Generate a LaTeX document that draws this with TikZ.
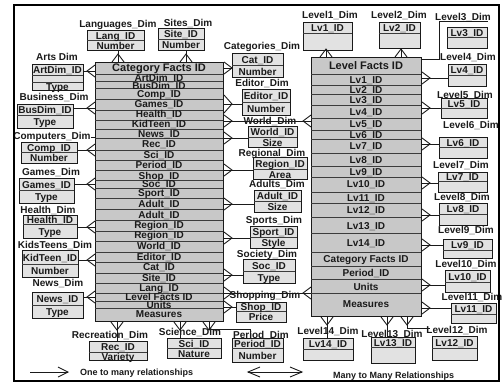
\documentclass[tikz,border=0pt]{standalone}
\usepackage{fontspec}
\setmainfont{Liberation Sans}
\definecolor{factfill}{HTML}{C8C8C8}
\definecolor{dimfill}{HTML}{E2E2E2}
\definecolor{ink}{HTML}{1A1A1A}
\tikzset{
 tx/.style={inner sep=0pt, text height=7.2pt, text depth=0pt, font=\fontsize{10}{10}\selectfont\bfseries, text=ink},
 hx/.style={tx, font=\fontsize{11}{11}\selectfont\bfseries, text height=7.9pt},
 lgx/.style={inner sep=0pt, text height=6.5pt, text depth=0pt, font=\fontsize{9}{9}\selectfont\bfseries, text=ink, anchor=west},
 facttab/.style={draw=ink, line width=1pt, fill=factfill, inner sep=0pt, anchor=north west},
 dimrect/.style={draw=ink, line width=1.1pt, fill=dimfill, inner sep=0pt, anchor=north west},
 rowline/.style={draw=ink!85, line width=0.9pt},
 conn/.style={draw=ink, line width=0.9pt},
 pics/crow/.style={code={\draw[conn] (0pt,-6pt) -- (8pt,0pt) -- (0pt,6pt);}},
 pics/bigcrow/.style={code={\draw[conn] (0pt,-9pt) -- (8pt,0pt) -- (0pt,9pt);}},
}
\newcommand\DimBox[8]{%
 \node[dimrect, minimum width={(#3-#2)*1pt}, minimum height={(#6-#4)*1pt}] (#1) at (#2,#4) {};
 \draw[rowline] (#2,#5) -- (#3,#5);
 \node[tx] (#1-a) at ({(#2+#3)/2},{(#4+#5)/2+0.5}) {#7};
 \node[tx] (#1-b) at ({(#2+#3)/2},{(#5+#6)/2+0.5}) {#8};
}
\newcommand\DimLabel[4]{\node[tx] (#1) at (#2,#3) {#4};}
\begin{document}
\begin{tikzpicture}[x=1pt,y=-1pt]
\useasboundingbox (0,0) rectangle (502,383);
\fill[white] (0,0) rectangle (502,383);

% ---------- Category Facts table ----------
\node[facttab, minimum width=128pt, minimum height=259pt] (catf) at (95,62) {};
\foreach \y in {74,81,88,99,110,120,129,138,150,160,170,180,188,198,209,220,231,241,252,262,273,283,293,301,308}
  \draw[rowline] (95,\y) -- (223,\y);
\node[hx] (catf-h) at (159,68) {Category Facts ID};
\foreach \y/\t in {78/ArtDim\_ID,86/BusDim\_ID,94/Comp\_ID,104/Games\_ID,114/Health\_ID,124/KidTeen\_ID,134/News\_ID,144/Rec\_ID,155/Sci\_ID,165/Period\_ID,176/Shop\_ID,184/Soc\_ID,193/Sport\_ID,204/Adult\_ID,215/Adult\_ID,225/Region\_ID,235/Region\_ID,246/World\_ID,257/Editor\_ID,267/Cat\_ID,278/Site\_ID,288/Lang\_ID,297/Level Facts ID,305/Units,314/Measures}
  \node[tx] at (159,\y) {\t};

% ---------- Level Facts table ----------
\node[facttab, minimum width=110pt, minimum height=259pt] (levf) at (311,57) {};
\foreach \y in {74,85,94,105,118,130,139,153,166,177,192,203,217,233,252,266,279,293}
  \draw[rowline] (311,\y) -- (421,\y);
\node[hx] (levf-h) at (366,66) {Level Facts ID};
\foreach \y/\t in {80/Lv1\_ID,90/Lv2\_ID,100/Lv3\_ID,112/Lv4\_ID,124/Lv5\_ID,135/Lv6\_ID,146/Lv7\_ID,160/Lv8\_ID,172/Lv9\_ID,184/Lv10\_ID,198/Lv11\_ID,210/Lv12\_ID,226/Lv13\_ID,243/Lv14\_ID,259/Category Facts ID,273/Period\_ID,287/Units,304/Measures}
  \node[tx] at (366,\y) {\t};

% ---------- dimension boxes ----------
\DimBox{art}{32}{83}{64}{75}{90}{ArtDim\_ID}{}
\draw[rowline] (32,82) -- (83,82);
\node[tx] (art-c) at (57.5,86.5) {Type};
\DimBox{bus}{17}{73}{104}{115}{128}{BusDim\_ID}{Type}
\DimBox{comp}{21}{77}{142}{152}{163}{Comp\_ID}{Number}
\DimBox{games}{19}{74}{178}{190}{203}{Games\_ID}{Type}
\DimBox{health}{23}{77}{215}{224}{238}{Health\_ID}{Type}
\DimBox{kid}{22}{78}{250}{264}{277}{KidTeen\_ID}{Number}
\DimBox{news}{32}{83}{292}{305}{318}{News\_ID}{Type}
\DimBox{lang}{87}{144}{30}{40}{50}{Lang\_ID}{Number}
\DimBox{site}{158}{204}{28}{39}{50}{Site\_ID}{Number}
\DimBox{cat}{232}{283}{53}{65}{77}{Cat\_ID}{Number}
\DimBox{editor}{242}{290}{89}{102}{115}{Editor\_ID}{Number}
\DimBox{world}{248}{297}{126}{137}{147}{World\_ID}{Size}
\DimBox{region}{253}{307}{157}{169}{179}{Region\_ID}{Area}
\DimBox{adult}{254}{301}{190}{201}{212}{Adult\_ID}{Size}
\DimBox{sport}{250}{297}{226}{237}{248}{Sport\_ID}{Style}
\DimBox{soc}{243}{295}{259}{271}{283}{Soc\_ID}{Type}
\DimBox{shop}{236}{286}{302}{311}{322}{Shop\_ID}{Price}
\DimBox{period}{232}{283}{338}{348}{362}{Period\_ID}{Number}
\DimBox{sci}{167}{221}{338}{348}{358}{Sci\_ID}{Nature}
\DimBox{rec}{89}{147}{341}{352}{360}{Rec\_ID}{Variety}
\DimBox{lv1}{303}{352}{22}{33}{50}{Lv1\_ID}{}
\DimBox{lv2}{379}{420}{22}{33}{48}{Lv2\_ID}{}
\DimBox{lv3}{447}{487}{27}{37}{48}{Lv3\_ID}{}
\DimBox{lv4}{448}{486}{64}{75}{86}{Lv4\_ID}{}
\DimBox{lv5}{441}{487}{98}{108}{118}{Lv5\_ID}{}
\DimBox{lv6}{439}{487}{137}{147}{158}{Lv6\_ID}{}
\DimBox{lv7}{438}{487}{172}{181}{192}{Lv7\_ID}{}
\DimBox{lv8}{439}{487}{203}{214}{225}{Lv8\_ID}{}
\DimBox{lv9}{443}{492}{239}{250}{258}{Lv9\_ID}{}
\DimBox{lv10}{445}{490}{270}{282}{292}{Lv10\_ID}{}
\DimBox{lv11}{451}{496}{303}{314}{323}{Lv11\_ID}{}
\DimBox{lv12}{432}{477}{336}{348}{360}{Lv12\_ID}{}
\DimBox{lv13}{371}{415}{337}{347}{363}{Lv13\_ID}{}
\DimBox{lv14}{303}{353}{338}{349}{360}{Lv14\_ID}{}

% ---------- labels ----------
\DimLabel{art-l}{57}{57}{Arts Dim}
\DimLabel{bus-l}{54}{97}{Business\_Dim}
\DimLabel{comp-l}{52}{136}{Computers\_Dim}
\DimLabel{games-l}{51}{172}{Games\_Dim}
\DimLabel{health-l}{48}{210}{Health\_Dim}
\DimLabel{kid-l}{55}{245}{KidsTeens\_Dim}
\DimLabel{news-l}{58}{283}{News\_Dim}
\DimLabel{lang-l}{118}{24}{Languages\_Dim}
\DimLabel{site-l}{188}{23}{Sites\_Dim}
\DimLabel{cat-l}{262}{46}{Categories\_Dim}
\DimLabel{editor-l}{262}{83}{Editor\_Dim}
\DimLabel{world-l}{270}{121}{World\_Dim}
\DimLabel{region-l}{272}{153}{Regional\_Dim}
\DimLabel{adult-l}{277}{184}{Adults\_Dim}
\DimLabel{sport-l}{274}{220}{Sports\_Dim}
\DimLabel{soc-l}{267}{254}{Society\_Dim}
\DimLabel{shop-l}{265}{295}{Shopping\_Dim}
\DimLabel{period-l}{261}{335}{Period\_Dim}
\DimLabel{sci-l}{190}{332}{Science\_Dim}
\DimLabel{rec-l}{110}{335}{Recreation\_Dim}
\DimLabel{lv1-l}{330}{15}{Level1\_Dim}
\DimLabel{lv2-l}{399}{15}{Level2\_Dim}
\DimLabel{lv3-l}{463}{17}{Level3\_Dim}
\DimLabel{lv4-l}{468}{57}{Level4\_Dim}
\DimLabel{lv5-l}{465}{95}{Level5\_Dim}
\DimLabel{lv6-l}{471}{125}{Level6\_Dim}
\DimLabel{lv7-l}{461}{165}{Level7\_Dim}
\DimLabel{lv8-l}{462}{197}{Level8\_Dim}
\DimLabel{lv9-l}{466}{230}{Level9\_Dim}
\DimLabel{lv10-l}{466}{264}{Level10\_Dim}
\DimLabel{lv11-l}{472}{297}{Level11\_Dim}
\DimLabel{lv12-l}{457}{330}{Level12\_Dim}
\DimLabel{lv13-l}{392}{334}{Level13\_Dim}
\DimLabel{lv14-l}{328}{331}{Level14\_Dim}

% ---------- connectors: left of Category Facts ----------
\foreach \n/\y in {art/71,bus/108,comp/150,games/184,health/227,kid/260,news/297}{
  \draw[conn] (\n.east |- 0,\y) -- (catf.west |- 0,\y);
  \pic[rotate=180] at (catf.west |- 0,\y) {crow};
}
\draw[conn] (comp-l.east |- 0,137) -- (catf.west |- 0,137);
% top of Category Facts
\draw[conn] (lang.south -| 118,0) -- (catf.north -| 118,0);
\pic[rotate=90] at (catf.north -| 118,0) {crow};
\draw[conn] (site.south -| 186,0) -- (catf.north -| 186,0);
\pic[rotate=90] at (catf.north -| 186,0) {crow};
% right of Category Facts
\foreach \n/\y in {cat/68,world/138,region/170,adult/204,sport/238,soc/275,shop/307}{
  \draw[conn] (catf.east |- 0,\y) -- (\n.west |- 0,\y);
  \pic at (catf.east |- 0,\y) {crow};
}
\draw[conn] (catf.east |- 0,104) -- (editor.west |- 0,104);
\pic at (catf.east |- 0,104) {bigcrow};
% many to many between the fact tables
\foreach \y in {121,293}{
  \draw[conn] (catf.east |- 0,\y) -- (levf.west |- 0,\y);
  \pic at (catf.east |- 0,\y) {crow};
  \pic[rotate=180] at (levf.west |- 0,\y) {crow};
}
% bottom of Category Facts
\draw[conn] (catf.south -| 117,0) -- (rec.north -| 117,0);
\pic[rotate=-90] at (catf.south -| 117,0) {crow};
\draw[conn] (catf.south -| 180,0) -- (sci.north -| 180,0);
\pic[rotate=-90] at (catf.south -| 180,0) {crow};
\draw[conn] (catf.south -| 209,0) -- (209,329) -- (250,329) -- (period.north -| 250,0);
\pic[rotate=-90] at (catf.south -| 209,0) {crow};

% ---------- connectors: Level Facts ----------
\draw[conn] (lv1.south -| 326,0) -- (levf.north -| 326,0);
\pic[rotate=90] at (levf.north -| 326,0) {crow};
\draw[conn] (lv2.south -| 401,0) -- (levf.north -| 401,0);
\pic[rotate=90] at (levf.north -| 401,0) {crow};
\draw[conn] (levf.east |- 0,59) -- (439,59) -- (439,21) -- (lv3.east |- 0,21);
\foreach \n/\y in {lv4/78,lv5/108,lv6/144,lv7/183,lv8/215,lv9/245,lv10/285,lv11/308}{
  \draw[conn] (levf.east |- 0,\y) -- (\n.west |- 0,\y);
  \pic at (levf.east |- 0,\y) {crow};
}
\draw[conn] (levf.south -| 327,0) -- (lv14.north -| 327,0);
\pic[rotate=-90] at (levf.south -| 327,0) {crow};
\draw[conn] (levf.south -| 387,0) -- (lv13.north -| 387,0);
\pic[rotate=-90] at (levf.south -| 387,0) {crow};
\coordinate (lv12end) at (430,328);
\draw[conn] (levf.south -| 407,0) -- (407,328) -- (lv12end);
\pic[rotate=-90] at (levf.south -| 407,0) {crow};

% ---------- legend ----------
\coordinate (oa) at (30,372);
\coordinate (ob) at (68,372);
\draw[conn] (oa) -- (ob);
\draw[conn] (58,367) -- (ob) -- (58,377);
\node[lgx] (one) at (80,372) {One to many relationships};
\coordinate (ma) at (248,372);
\coordinate (mb) at (302,372);
\draw[conn] (ma) -- (mb);
\draw[conn] (260,367) -- (ma) -- (260,377);
\draw[conn] (290,367) -- (mb) -- (290,377);
\node[lgx] (many) at (333,375) {Many to Many Relationships};

% ---------- frame ----------
\draw[line width=2pt, draw=black] (14,5) rectangle (499,381);
\end{tikzpicture}
\end{document}
